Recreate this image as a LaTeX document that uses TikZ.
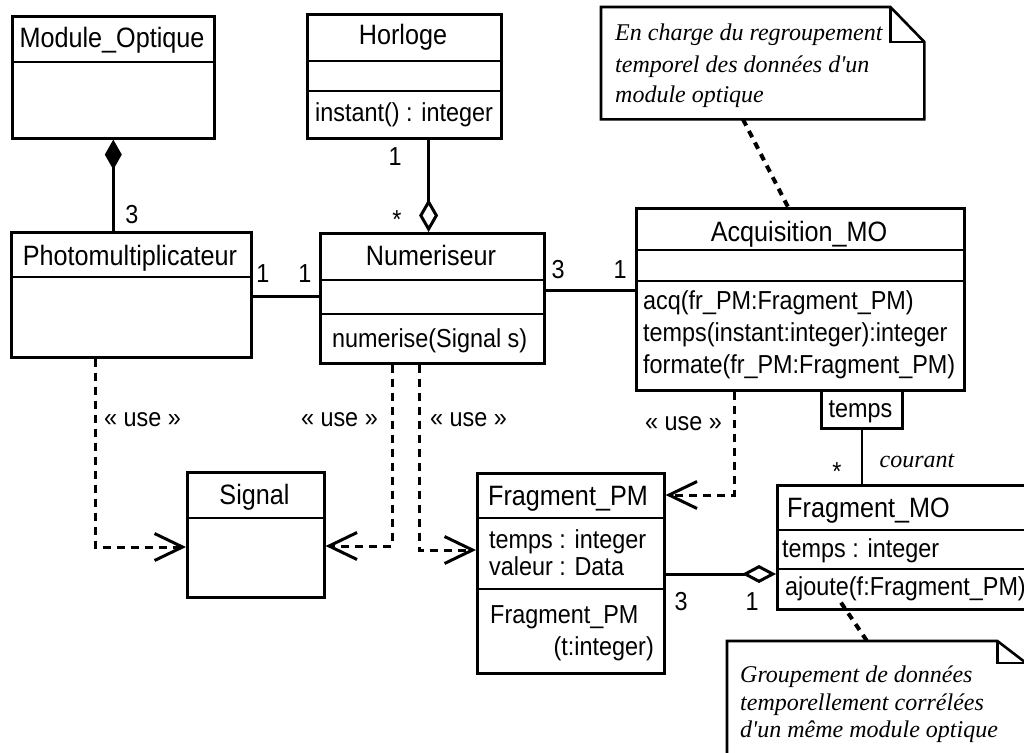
\documentclass[tikz,border=0pt]{standalone}
\usepackage{fontspec}
\setmainfont[FakeStretch=0.9]{Liberation Sans}
\newfontfamily\notefont{Liberation Serif}
\usetikzlibrary{arrows.meta,calc}
\begin{document}
\begin{tikzpicture}[x=1pt,y=-1pt,
  box/.style={draw, line width=2.6pt, inner sep=0pt, anchor=north west},
  sep/.style={line width=2.6pt},
  cname/.style={font=\fontsize{28}{32}\selectfont, inner sep=0pt, anchor=base},
  memb/.style={font=\fontsize{26}{30}\selectfont, inner sep=0pt, anchor=base west},
  mult/.style={font=\fontsize{26}{30}\selectfont, inner sep=0pt, anchor=base},
  assoc/.style={line width=3pt},
  usedep/.style={line width=3pt, dash pattern=on 8pt off 6pt, -{Straight Barb[length=28pt,width=27pt]}},
  notelink/.style={line width=4pt, dash pattern=on 7pt off 6pt},
  notetext/.style={font=\notefont\itshape\fontsize{24}{30}\selectfont, inner sep=0pt, anchor=base west},
  noteshape/.style={line width=2.6pt, line join=miter},
]
\path[use as bounding box, fill=white] (0,0) rectangle (1024,752);
\clip (0,0) rectangle (1024,752);

% ---------- classes ----------
\node[box, minimum width=202pt, minimum height=122pt] (mo) at (11,15) {};
\draw[sep] ($(mo.north west)+(0,47)$) -- ($(mo.north east)+(0,47)$);
\node[cname] (moN) at (112,48) {Module\_Optique};

\node[box, minimum width=194pt, minimum height=124pt] (hor) at (306,13) {};
\draw[sep] ($(hor.north west)+(0,48)$) -- ($(hor.north east)+(0,48)$);
\draw[sep] ($(hor.north west)+(0,78)$) -- ($(hor.north east)+(0,78)$);
\node[cname] (horN) at (403,45) {Horloge};
\node[memb] (horO) at (315,121) {instant() : integer};

\node[box, minimum width=240pt, minimum height=125pt] (pm) at (10,231) {};
\draw[sep] ($(pm.north west)+(0,46)$) -- ($(pm.north east)+(0,46)$);
\node[cname] (pmN) at (130,265) {Photomultiplicateur};

\node[box, minimum width=224pt, minimum height=130pt] (num) at (319,232) {};
\draw[sep] ($(num.north west)+(0,48)$) -- ($(num.north east)+(0,48)$);
\draw[sep] ($(num.north west)+(0,82)$) -- ($(num.north east)+(0,82)$);
\node[cname] (numN) at (431,265) {Numeriseur};
\node[memb] (numO) at (332,347) {numerise(Signal s)};

\node[box, minimum width=328pt, minimum height=182pt] (acq) at (635,207) {};
\draw[sep] ($(acq.north west)+(0,43)$) -- ($(acq.north east)+(0,43)$);
\draw[sep] ($(acq.north west)+(0,74)$) -- ($(acq.north east)+(0,74)$);
\node[cname] (acqN) at (799,241) {Acquisition\_MO};
\node[memb] (acqO1) at (643,309) {acq(fr\_PM:Fragment\_PM)};
\node[memb] (acqO2) at (643,341) {temps(instant:integer):integer};
\node[memb] (acqO3) at (643,373) {formate(fr\_PM:Fragment\_PM)};

\node[box, minimum width=81pt, minimum height=38pt] (tq) at (820,389) {};
\node[memb, anchor=base] (tqT) at (860.5,417) {temps};

\node[box, minimum width=137pt, minimum height=125pt] (sig) at (186,471) {};
\draw[sep] ($(sig.north west)+(0,47)$) -- ($(sig.north east)+(0,47)$);
\node[cname] (sigN) at (254.5,504) {Signal};

\node[box, minimum width=187pt, minimum height=200pt] (fpm) at (476,472) {};
\draw[sep] ($(fpm.north west)+(0,46)$) -- ($(fpm.north east)+(0,46)$);
\draw[sep] ($(fpm.north west)+(0,117)$) -- ($(fpm.north east)+(0,117)$);
\node[cname] (fpmN) at (568,505) {Fragment\_PM};
\node[memb] (fpmA1) at (489,548) {temps : integer};
\node[memb] (fpmA2) at (489,575) {valeur : Data};
\node[memb] (fpmO1) at (490,623) {Fragment\_PM};
\node[memb, anchor=base east] (fpmO2) at (654,655) {(t:integer)};

\node[box, minimum width=250pt, minimum height=124pt] (fmo) at (776,484) {};
\draw[sep] ($(fmo.north west)+(0,46)$) -- ($(fmo.north east)+(0,46)$);
\draw[sep] ($(fmo.north west)+(0,85)$) -- ($(fmo.north east)+(0,85)$);
\node[cname, anchor=base west] (fmoN) at (787,517) {Fragment\_MO};
\node[memb] (fmoA) at (782,557) {temps : integer};
\node[memb] (fmoO) at (785,595) {ajoute(f:Fragment\_PM)};

% ---------- notes ----------
\node[inner sep=0pt, minimum width=323pt, minimum height=112pt, anchor=north west] (n1) at (601,7) {};
\draw[noteshape] (n1.south west) -- (n1.north west) -- ($(n1.north east)+(-34,0)$) -- ($(n1.north east)+(0,35)$) -- (n1.south east) -- cycle;
\draw[noteshape] ($(n1.north east)+(-34,0)$) -- ($(n1.north east)+(-34,35)$) -- ($(n1.north east)+(0,35)$);
\node[notetext] (n1a) at (615,41) {En charge du regroupement};
\node[notetext] (n1b) at (615,72) {temporel des données d'un};
\node[notetext] (n1c) at (615,102) {module optique};

\node[inner sep=0pt, minimum width=300pt, minimum height=130pt, anchor=north west] (n2) at (727,641) {};
\draw[noteshape] (n2.south west) -- (n2.north west) -- ($(n2.north east)+(-30,0)$) -- ($(n2.north east)+(0,23)$) -- (n2.south east) -- cycle;
\draw[noteshape] ($(n2.north east)+(-30,0)$) -- ($(n2.north east)+(-30,22)$) -- ($(n2.north east)+(0,22)$);
\node[notetext] (n2a) at (740,682) {Groupement de données};
\node[notetext] (n2b) at (740,710) {temporellement corrélées};
\node[notetext] (n2c) at (740,737) {d'un même module optique};

% ---------- connectors ----------
\draw[assoc, {Diamond[length=30pt,width=17pt]}-] (mo.south) -- (mo.south |- pm.north);
\coordinate (hx) at ($(hor.south east)+(-74,0)$);
\draw[assoc, -{Diamond[open,length=33pt,width=19pt]}] (hx) -- (hx |- num.north);

\coordinate (y296) at (0,296);
\draw[assoc] (pm.east |- y296) -- (num.west |- y296);
\coordinate (y290) at (0,290);
\draw[assoc] (num.east |- y290) -- (acq.west |- y290);
\draw[line width=2.6pt] (tq.south) -- (tq.south |- fmo.north);
\coordinate (y574) at (0,574);
\draw[assoc, -{Diamond[open,length=34pt,width=18pt]}] (fpm.east |- y574) -- (fmo.west |- y574);

\coordinate (u1) at (95,0);
\coordinate (u2) at (392,0);
\coordinate (u3) at (419,0);
\coordinate (u4) at (734,0);
\coordinate (y547) at (0,547);
\coordinate (y546) at (0,546);
\coordinate (y550) at (0,550);
\coordinate (y495) at (0,495);
\draw[usedep] (pm.south -| u1) |- (sig.west |- y547);
\draw[usedep] (num.south -| u2) |- (sig.east |- y546);
\draw[usedep] (num.south -| u3) |- (fpm.west |- y550);
\draw[usedep] (acq.south -| u4) |- (fpm.east |- y495);

\draw[notelink] ($(n1.south west)+(142,0)$) -- ($(acq.north west)+(153,0)$);
\draw[notelink] ($(fmo.south west)+(65,-8)$) -- ($(n2.north west)+(140,0)$);

% ---------- labels ----------
\node[memb] (l1) at (104,426) {« use »};
\node[memb, anchor=base east] (l2) at (378,426) {« use »};
\node[memb] (l3) at (430,426) {« use »};
\node[memb] (l4) at (645,430) {« use »};

\node[mult] (m1) at (132,223) {3};
\node[mult] (m2) at (395,165) {1};
\node[mult] (m3) at (397,228) {*};
\node[mult] (m4) at (263,282) {1};
\node[mult] (m5) at (305,282) {1};
\node[mult] (m6) at (558,278) {3};
\node[mult] (m7) at (620,278) {1};
\node[mult] (m8) at (837,480) {*};
\node[notetext, anchor=base] (cour) at (917,467) {courant};
\node[mult] (m9) at (681,610) {3};
\node[mult] (m10) at (752,610) {1};
\end{tikzpicture}
\end{document}
